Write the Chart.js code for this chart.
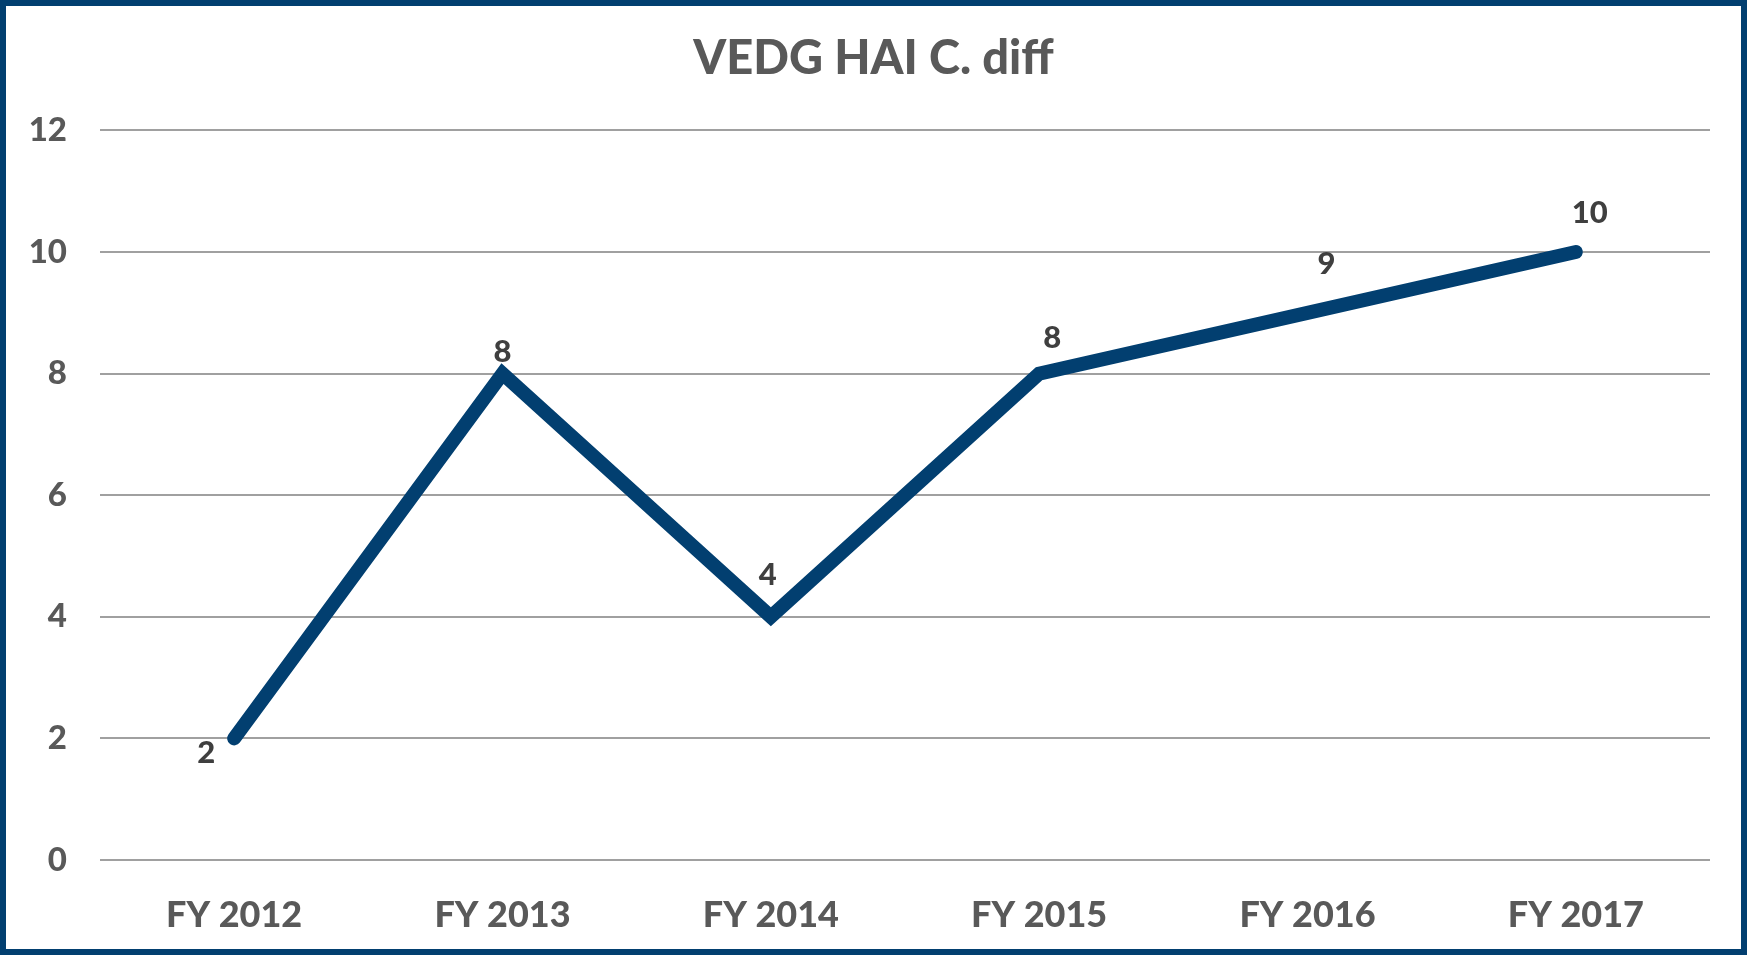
<!DOCTYPE html>
<html>
<head>
<meta charset="utf-8">
<script src="https://cdn.jsdelivr.net/npm/chart.js@4/dist/chart.umd.min.js"></script>
<style>
  html, body { margin: 0; padding: 0; background: #fff; }
  #wrap {
    width: 1747px; height: 955px; box-sizing: border-box;
    border: 6px solid #023f70; background: #fff;
  }
  canvas { display: block; }
</style>
</head>
<body>
<div id="wrap"><canvas id="chart" width="1735" height="943"></canvas></div>
<script>
// Chart data
const categories = ['FY 2012', 'FY 2013', 'FY 2014', 'FY 2015', 'FY 2016', 'FY 2017'];
const cdiffValues = [2, 8, 4, 8, 9, 10];
const yTicks = [0, 2, 4, 6, 8, 10, 12];

// where each value label sits relative to its point (px)
const labelOffsets = [[-28, 15], [0, -22], [-3, -42], [13, -36], [19, -49], [14, -39]];

const FONT = 'Lato, "Liberation Sans", sans-serif';

const valueLabels = {
    id: 'valueLabels',
    afterDatasetsDraw(chart) {
        const ctx = chart.ctx;
        const meta = chart.getDatasetMeta(0);
        ctx.save();
        ctx.font = '900 31px ' + FONT;
        ctx.fillStyle = '#3f3f3f';
        ctx.textAlign = 'center';
        ctx.textBaseline = 'middle';
        meta.data.forEach((pt, i) => {
            const off = labelOffsets[i] || [0, -20];
            ctx.fillText(String(cdiffValues[i]), pt.x + off[0], pt.y + off[1]);
        });
        ctx.restore();
    }
};

new Chart(document.getElementById('chart'), {
    type: 'line',
    data: {
        labels: categories,
        datasets: [{
            label: 'VEDG HAI C. diff',
            data: cdiffValues,
            borderColor: '#023f70',
            borderWidth: 14,
            borderCapStyle: 'round',
            borderJoinStyle: 'miter',
            pointRadius: 0,
            tension: 0,
            fill: false
        }]
    },
    options: {
        responsive: false,
        animation: false,
        layout: { padding: 0 },
        plugins: {
            legend: { display: false },
            tooltip: { enabled: false },
            title: {
                display: true,
                text: 'VEDG HAI C. diff',
                color: '#595959',
                font: { family: FONT, size: 47, weight: 900 },
                padding: { top: 25, bottom: 43 }
            }
        },
        scales: {
            x: {
                offset: true,
                grid: { display: false, drawTicks: false, tickLength: 0 },
                border: { display: false },
                ticks: {
                    color: '#595959',
                    font: { family: FONT, size: 36, weight: 900 },
                    padding: 34,
                    maxRotation: 0
                },
                afterFit(scale) { scale.height = 89; }
            },
            y: {
                min: 0,
                max: 12,
                afterBuildTicks(scale) { scale.ticks = yTicks.map(v => ({ value: v })); },
                grid: { color: '#a0a0a0', lineWidth: 2, drawTicks: false, tickLength: 0 },
                border: { display: false },
                ticks: {
                    color: '#595959',
                    font: { family: FONT, size: 33, weight: 900 },
                    padding: 33
                },
                afterFit(scale) { scale.width = 94; }
            },
            // empty right-hand gutter so the title stays centred on the whole card
            gutter: {
                position: 'right',
                display: true,
                min: 0,
                max: 12,
                grid: { display: false, drawTicks: false },
                border: { display: false },
                ticks: { display: false },
                afterFit(scale) { scale.width = 31; }
            }
        }
    },
    plugins: [valueLabels]
});
</script>
</body>
</html>
